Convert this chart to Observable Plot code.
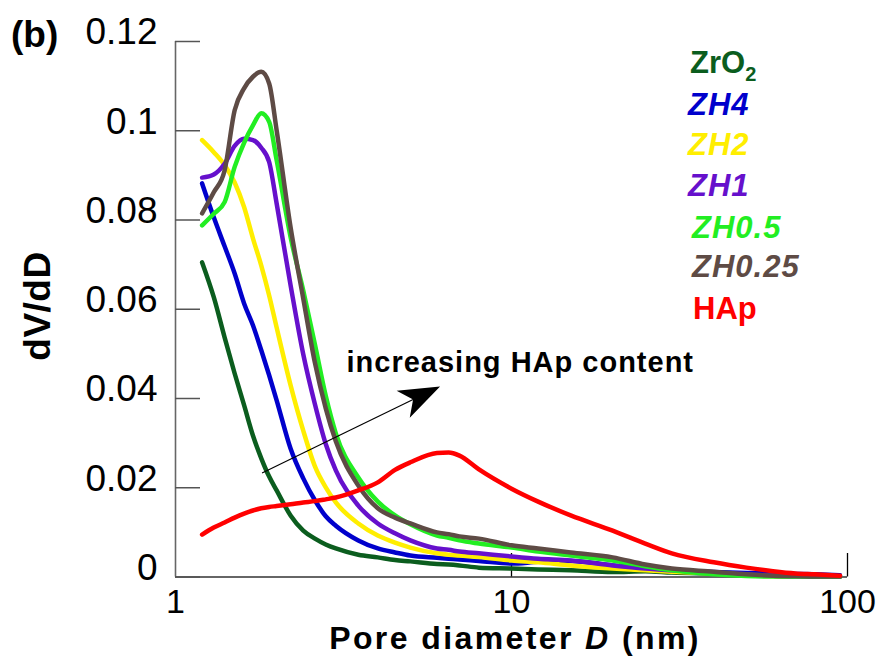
<!DOCTYPE html>
<html>
<head>
<meta charset="utf-8">
<script src="https://cdn.jsdelivr.net/npm/d3@7"></script>
<script src="https://cdn.jsdelivr.net/npm/@observablehq/plot@0.6"></script>
<style>
  html, body { margin: 0; padding: 0; background: #fff; }
  #chart { width: 880px; height: 657px; }
</style>
</head>
<body>
<div id="chart"></div>
<script>
// ---------- data ----------
const poreD = [1.2,1.3,1.4,1.5,1.6,1.7,1.8,1.9,2.0, 2.2,2.4,2.6,2.8,3.0, 3.5,4,4.5,5, 6,6.5,7,8, 10,12,15,20,25,30, 40,50,60,70,80,95];

const ZrO2   = [0.0705,0.0627,0.0537,0.0456,0.0385,0.0317,0.0266,0.0225,0.0194, 0.0138,0.0104,0.0086,0.0073,0.0064, 0.0050,0.0044,0.0038,0.0035, 0.0029,0.0028,0.0026,0.0021, 0.0019,0.0017,0.0015,0.0011,0.0013,0.0010, 0.0008,0.0006,0.0004,0.0003,0.0002,0.0001];
const ZH4    = [0.0882,0.0806,0.0741,0.0680,0.0613,0.0564,0.0508,0.0452,0.0396, 0.0288,0.0221,0.0172,0.0136,0.0115, 0.0082,0.0064,0.0055,0.0048, 0.0043,0.0041,0.0039,0.0036, 0.0030,0.0034,0.0036,0.0026,0.0019,0.0015, 0.0011,0.0009,0.0008,0.0007,0.0006,0.0004];
const ZH2    = [0.0979,0.0952,0.0923,0.0884,0.0829,0.0759,0.0698,0.0631,0.0559, 0.0430,0.0328,0.0248,0.0201,0.0167, 0.0120,0.0093,0.0077,0.0066, 0.0053,0.0050,0.0048,0.0045, 0.0037,0.0033,0.0026,0.0019,0.0015,0.0012, 0.0008,0.0004,0.0002,0.0001,0.0001,0.0001];
const ZH1    = [0.0895,0.0902,0.0926,0.0966,0.0982,0.0979,0.0962,0.0930,0.0837, 0.0654,0.0499,0.0387,0.0298,0.0239, 0.0160,0.0120,0.0098,0.0082, 0.0064,0.0061,0.0057,0.0053, 0.0046,0.0041,0.0037,0.0026,0.0019,0.0015, 0.0010,0.0006,0.0003,0.0001,0.0001,0.0001];
const ZH05   = [0.0788,0.0814,0.0840,0.0919,0.0973,0.1012,0.1039,0.1020,0.0934, 0.0762,0.0642,0.0521,0.0406,0.0322, 0.0223,0.0169,0.0138,0.0118, 0.0093,0.0088,0.0082,0.0075, 0.0066,0.0057,0.0048,0.0037,0.0024,0.0015, 0.0006,0.0002,0.0001,0.0001,0.0001,0.0001];
const ZH025  = [0.0815,0.0862,0.0911,0.1046,0.1095,0.1121,0.1132,0.1106,0.1001, 0.0784,0.0624,0.0480,0.0378,0.0304, 0.0205,0.0154,0.0133,0.0120, 0.0100,0.0096,0.0091,0.0086, 0.0071,0.0064,0.0055,0.0044,0.0028,0.0019, 0.0012,0.0006,0.0003,0.0002,0.0001,0.0001];
const HAp    = [0.0095,0.0111,0.0122,0.0133,0.0142,0.0149,0.0154,0.0157,0.0159, 0.0163,0.0167,0.0170,0.0174,0.0178, 0.0194,0.0212,0.0240,0.0257, 0.0278,0.0279,0.0272,0.0241, 0.0198,0.0169,0.0138,0.0104,0.0075,0.0053, 0.0033,0.0021,0.0013,0.0008,0.0006,0.0003];

const seriesNames  = ["ZrO2","ZH4","ZH2","ZH1","ZH0.5","ZH0.25","HAp"];
const seriesValues = [ZrO2, ZH4, ZH2, ZH1, ZH05, ZH025, HAp];
const seriesColors = ["#0b5d1e","#0000cc","#ffee00","#6610cc","#22ee22","#5e4b45","#ff0000"];

const yTicks = [0, 0.02, 0.04, 0.06, 0.08, 0.1, 0.12];
const xTicks = [1, 10, 100];

// annotation anchors (data space)
const annotationText = "increasing HAp content";
const annotationAt   = {D: 3.24, V: 0.0459};
const arrowFrom      = {D: 1.816, V: 0.0232};
const arrowTo        = {D: 6.15,  V: 0.0426};

// ---------- build table ----------
const rows = [];
seriesNames.forEach((name, s) => {
  poreD.forEach((d, i) => rows.push({series: name, D: d, V: seriesValues[s][i]}));
});

const FONT = "'Liberation Sans', Arial, Helvetica, sans-serif";
const W = 880, H = 657, mL = 175, mR = 33, mT = 41, mB = 80.5;
const frameW = W - mL - mR, frameH = H - mT - mB;

const fmtY = d => d === 0 ? "0" : String(+d.toFixed(2));

const chart = Plot.plot({
  width: W, height: H,
  marginTop: mT, marginRight: mR, marginBottom: mB, marginLeft: mL,
  style: {fontFamily: FONT, background: "#fff", overflow: "visible", color: "#000"},
  x: {type: "log", domain: [1, 100]},
  y: {domain: [0, 0.12]},
  color: {domain: seriesNames, range: seriesColors},
  marks: [
    Plot.axisY(yTicks, {anchor: "left", tickSize: 0, tickPadding: 18, fontSize: 37, dy: -9, tickFormat: fmtY, label: null}),
    Plot.axisX(xTicks, {anchor: "bottom", tickSize: 0, tickPadding: 12, fontSize: 34, tickFormat: d => String(d), label: null}),
    Plot.ruleX([1], {stroke: "#666", strokeWidth: 1.6}),
    Plot.ruleY([0], {stroke: "#333", strokeWidth: 1.6}),
    Plot.tickY(yTicks, {y: d => d, stroke: "#555", strokeWidth: 1.5, insetRight: frameW - 25}),
    Plot.tickX(xTicks.slice(1), {x: d => d, stroke: "#000", strokeWidth: 1.3, insetTop: frameH - 23.5}),
    Plot.line(rows, {x: "D", y: "V", z: "series", stroke: "series", strokeWidth: 4.5,
                     curve: "monotone-x", strokeLinejoin: "round", strokeLinecap: "round"})
  ]
});
document.getElementById("chart").appendChild(chart);

// ---------- overlay texts & annotation ----------
const svg = d3.select(chart);
const sx = chart.scale("x"), sy = chart.scale("y");

function txt(x, y, s, o = {}) {
  const t = svg.append("text")
    .attr("x", x).attr("y", y)
    .attr("font-family", FONT)
    .attr("font-size", o.size || 31)
    .attr("font-weight", o.weight || "bold")
    .attr("font-style", o.style || "normal")
    .attr("fill", o.fill || "#000")
    .attr("text-anchor", o.anchor || "start");
  if (o.spacing) t.attr("letter-spacing", o.spacing);
  if (o.transform) t.attr("transform", o.transform);
  t.text(s);
  return t;
}

// panel label
txt(11, 47, "(b)", {size: 37});

// y axis title
txt(0, 0, "dV/dD", {size: 37, anchor: "middle", spacing: 0.5, transform: "translate(50,306) rotate(-90)"});

// x axis title with italic D
const xt = txt(515, 649, "", {size: 32, anchor: "middle", spacing: 2.4});
xt.append("tspan").text("Pore diameter ");
xt.append("tspan").attr("font-style", "italic").text("D");
xt.append("tspan").text(" (nm)");

// legend
const legendPos = [[690,73],[688,115],[688,155],[688,196],[692,238],[692,277],[693,319]];
seriesNames.forEach((name, i) => {
  const [lx, ly] = legendPos[i];
  const italic = name.startsWith("ZH");
  if (name === "ZrO2") {
    const t = txt(lx, ly, "", {size: 31, fill: seriesColors[i]});
    t.append("tspan").text("ZrO");
    t.append("tspan").attr("font-size", 20).attr("dy", 8).text("2");
  } else {
    txt(lx, ly, name, {size: 31, fill: seriesColors[i], style: italic ? "italic" : "normal", spacing: italic ? 1 : 0});
  }
});

// annotation text
txt(sx.apply(annotationAt.D), sy.apply(annotationAt.V), annotationText, {size: 29, spacing: 1});

// arrow: shaft + filled stealth head, positioned through the scales
const x0 = sx.apply(arrowFrom.D), y0 = sy.apply(arrowFrom.V);
const x1 = sx.apply(arrowTo.D),   y1 = sy.apply(arrowTo.V);
const len = Math.hypot(x1 - x0, y1 - y0);
const ux = (x1 - x0) / len, uy = (y1 - y0) / len;
const nx = -uy, ny = ux;
const headL = 41, headW = 15, notch = 30;
const bx = x1 - ux * headL, by = y1 - uy * headL;
const cx = x1 - ux * notch, cy = y1 - uy * notch;
svg.append("line")
  .attr("x1", x0).attr("y1", y0).attr("x2", cx).attr("y2", cy)
  .attr("stroke", "#000").attr("stroke-width", 1.2);
svg.append("path")
  .attr("d", `M${x1},${y1}L${bx + nx * headW},${by + ny * headW}L${cx},${cy}L${bx - nx * headW},${by - ny * headW}Z`)
  .attr("fill", "#000");
</script>
</body>
</html>
